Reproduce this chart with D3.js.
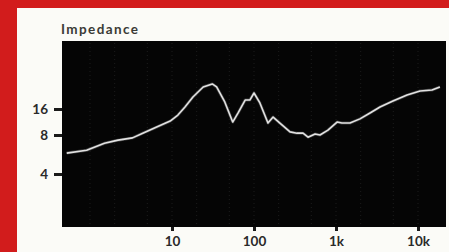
<!DOCTYPE html>
<html>
<head>
<meta charset="utf-8">
<script src="https://d3js.org/d3.v7.min.js"></script>
<style>
  html, body { margin: 0; padding: 0; background: #d21c1c; }
  svg { display: block; }
</style>
</head>
<body>
<svg id="chart" width="449" height="252"></svg>
<script>
// impedance curve (Hz, ohms)
const freqs = [0.52, 0.91, 1.5, 2.2, 3.3, 4.4, 6.2, 9.5, 11.8, 14.4, 18, 24, 31, 35, 44, 55, 64, 78, 89, 100,
  118, 148, 171, 207, 275, 334, 396, 456, 555, 638, 798, 1030, 1180, 1480, 1960, 2600, 3440, 4950, 7350, 10600, 14800, 18500];
const ohms = [5.8, 6.1, 6.9, 7.3, 7.6, 8.4, 9.7, 11.6, 13.6, 16.9, 22, 28.8, 31.2, 28.8, 19.3, 11.3, 14.4, 20.3, 20.3, 24.5,
  18.8, 11, 12.9, 11, 8.7, 8.4, 8.4, 7.7, 8.2, 8.0, 9.1, 11.3, 11, 11, 12.3, 14.4, 16.9, 19.8, 23.2, 25.9, 26.5, 28.8];

const xTicks = [10, 100, 1000, 10000];
const xTickLabels = ['10', '100', '1k', '10k'];
const yTicks = [4, 8, 16];
const yTickLabels = ['4', '8', '16'];
const gridFreqs = [1, 2, 5, 10, 20, 50, 100, 200, 500, 1000, 2000, 5000, 10000];

const width = 449;
const height = 252;
const plot = { left: 62, top: 41, right: 446, bottom: 227 };

const svg = d3.select('#chart');

// red frame + off-white card
svg.append('rect').attr('width', width).attr('height', height).attr('fill', '#d21c1c');
svg.append('rect')
  .attr('x', 17).attr('y', 8)
  .attr('width', width - 17).attr('height', height - 8)
  .attr('fill', '#fbfbf7');

const xScale = d3.scaleLog().domain([10, 10000]).range([172, 418]);
// the printed axis is not evenly spaced, so map each labelled octave
const yScale = d3.scaleLog().domain([4, 8, 16]).range([174, 135, 109]);

svg.append('rect')
  .attr('x', plot.left).attr('y', plot.top)
  .attr('width', plot.right - plot.left).attr('height', plot.bottom - plot.top)
  .attr('fill', '#050505');

// faint dotted grid
svg.append('g')
  .selectAll('line')
  .data(gridFreqs)
  .join('line')
  .attr('x1', d => xScale(d)).attr('x2', d => xScale(d))
  .attr('y1', plot.top + 2).attr('y2', plot.bottom - 2)
  .attr('stroke', '#333')
  .attr('stroke-width', 1)
  .attr('stroke-dasharray', '1,3')
  .attr('opacity', 0.5);

const lineGen = d3.line()
  .x((d, i) => xScale(freqs[i]))
  .y(d => yScale(d));

svg.append('path')
  .datum(ohms)
  .attr('d', lineGen)
  .attr('fill', 'none')
  .attr('stroke', '#9a9a9a')
  .attr('stroke-width', 3)
  .attr('opacity', 0.35)
  .attr('stroke-linejoin', 'round');

svg.append('path')
  .datum(ohms)
  .attr('d', lineGen)
  .attr('fill', 'none')
  .attr('stroke', '#e2e2e2')
  .attr('stroke-width', 1.6)
  .attr('stroke-linejoin', 'round');

// axes
const xAxis = d3.axisBottom(xScale)
  .tickValues(xTicks)
  .tickFormat((d, i) => xTickLabels[i])
  .tickSize(4)
  .tickPadding(5);

const xg = svg.append('g')
  .attr('transform', `translate(0, ${plot.bottom})`)
  .call(xAxis);

const yAxis = d3.axisLeft(yScale)
  .tickValues(yTicks)
  .tickFormat((d, i) => yTickLabels[i])
  .tickSize(8)
  .tickPadding(6);

const yg = svg.append('g')
  .attr('transform', `translate(${plot.left}, 0)`)
  .call(yAxis);

[xg, yg].forEach(g => {
  g.select('.domain').remove();
  g.selectAll('.tick line').attr('stroke', '#1a1a1a').attr('stroke-width', 3);
  g.selectAll('.tick text')
    .attr('fill', '#2a2a2a')
    .style('font-family', 'Lato, "Open Sans", sans-serif')
    .style('font-weight', 'bold')
    .style('font-size', '13.5px');
});

svg.append('text')
  .attr('x', 61).attr('y', 34)
  .attr('fill', '#3a3a36')
  .style('font-family', 'Lato, "Open Sans", sans-serif')
  .style('font-weight', 'bold')
  .style('font-size', '13.5px')
  .style('letter-spacing', '1.4px')
  .text('Impedance');
</script>
</body>
</html>
